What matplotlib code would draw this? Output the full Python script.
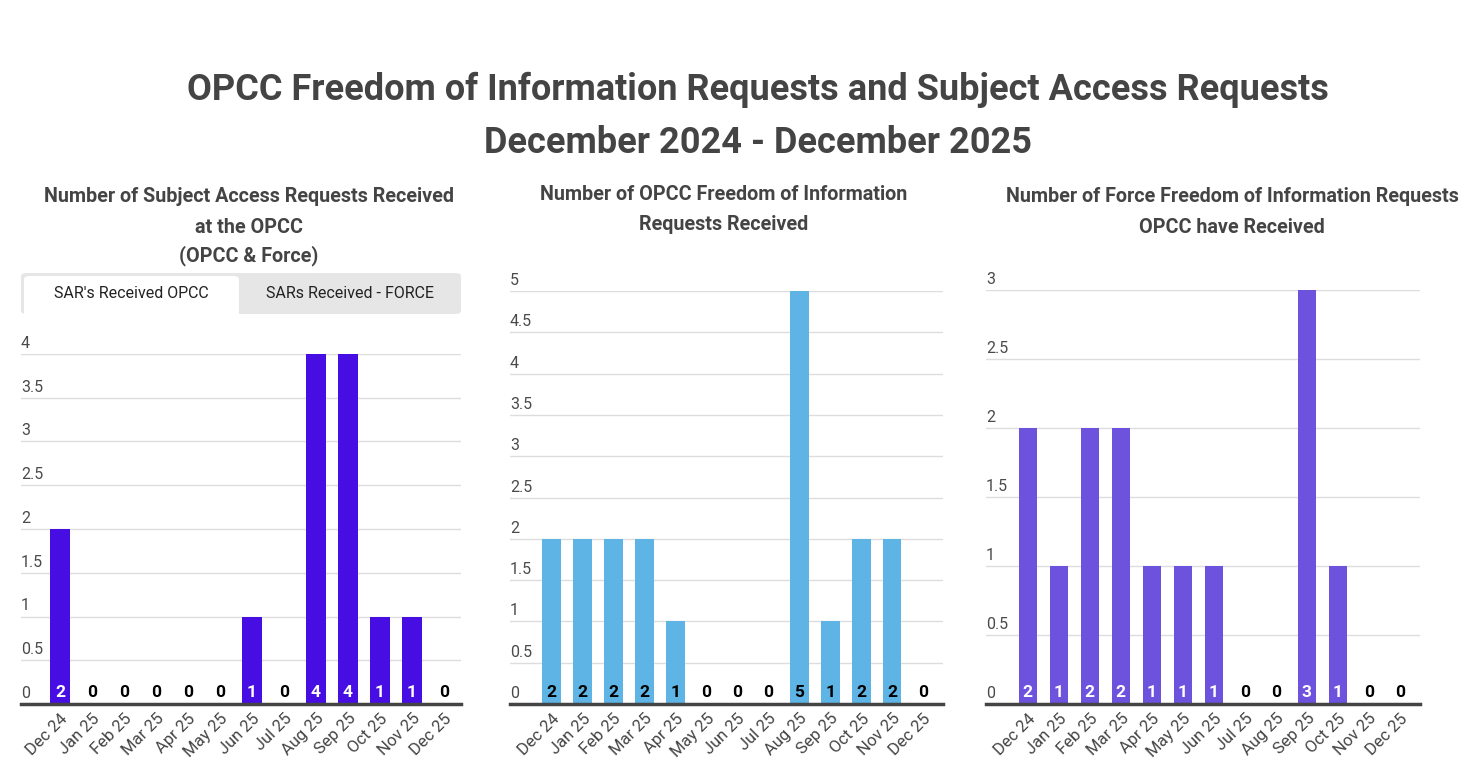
import matplotlib
matplotlib.use("Agg")
import matplotlib.pyplot as plt
import matplotlib.transforms as mtransforms
from matplotlib.patches import FancyBboxPatch, Rectangle
import numpy as np

plt.rcParams['font.family'] = ['Roboto', 'DejaVu Sans']

months = ["Dec 24", "Jan 25", "Feb 25", "Mar 25", "Apr 25", "May 25", "Jun 25",
          "Jul 25", "Aug 25", "Sep 25", "Oct 25", "Nov 25", "Dec 25"]
sar_opcc = [2, 0, 0, 0, 0, 0, 1, 0, 4, 4, 1, 1, 0]
opcc_foi = [2, 2, 2, 2, 1, 0, 0, 0, 5, 1, 2, 2, 0]
force_foi = [2, 1, 2, 2, 1, 1, 1, 0, 0, 3, 1, 0, 0]

main_title = ["OPCC Freedom of Information Requests and Subject Access Requests",
              "December 2024 - December 2025"]
sub_titles = [
    ["Number of Subject Access Requests Received", "at the OPCC", "(OPCC & Force)"],
    ["Number of OPCC Freedom of Information", "Requests Received"],
    ["Number of Force Freedom of Information Requests", "OPCC have Received"],
]
tab_labels = ["SAR's Received OPCC", "SARs Received - FORCE"]

W, H = 1476, 780
fig = plt.figure(figsize=(W / 100, H / 100), dpi=100)
fig.patch.set_facecolor("white")

def fx(x):
    return x / W

def fy(y):
    return 1 - y / H

# Main title
fig.text(fx(758), fy(90), main_title[0], ha="center", va="center",
         fontsize=26, fontweight="bold", color="#444444")
fig.text(fx(758), fy(143), main_title[1], ha="center", va="center",
         fontsize=26, fontweight="bold", color="#444444")

panels = [
    dict(vals=sar_opcc, color="#470ee3", left=21, right=461, top=354, ymax=4,
         step=0.5, title_x=249, title_y=[197, 227, 256], inside_color="white",
         xlim=(-1.22, 12.53)),
    dict(vals=opcc_foi, color="#5eb5e5", left=510, right=943, top=291, ymax=5,
         step=0.5, title_x=724, title_y=[195, 224], inside_color="black",
         xlim=(-1.34, 12.64)),
    dict(vals=force_foi, color="#6c52dc", left=986, right=1420, top=290, ymax=3,
         step=0.5, title_x=1232, title_y=[197, 227], inside_color="white",
         xlim=(-1.35, 12.65)),
]
bottom_px = 704

for i, p in enumerate(panels):
    ax = fig.add_axes([fx(p["left"]), fy(bottom_px), (p["right"] - p["left"]) / W,
                       (bottom_px - p["top"]) / H])
    x = np.arange(len(months))
    ax.bar(x, p["vals"], width=0.6, color=p["color"], zorder=2)
    ax.set_xlim(*p["xlim"])
    ax.set_ylim(0, p["ymax"])
    for s in ax.spines.values():
        s.set_visible(False)
    ticks = np.arange(0, p["ymax"] + 1e-9, p["step"])
    for t in ticks:
        if t == 0:
            ax.axhline(0, color="#444444", lw=2.5, zorder=3, clip_on=False)
        else:
            ax.axhline(t, color="#dddddd", lw=1, zorder=1)
        lbl = f"{t:g}"
        trans = mtransforms.offset_copy(ax.get_yaxis_transform(), fig=fig, x=0, y=3, units="dots")
        ax.text(0, t, lbl, transform=trans, ha="left", va="bottom", fontsize=11.5,
                color="#4a4a4a", clip_on=False)
    ax.set_yticks([])
    ax.set_xticks(x)
    ax.set_xticklabels(months, rotation=45, ha="right", rotation_mode="anchor",
                       fontsize=12, color="#444444")
    ax.tick_params(axis="x", length=0, pad=5)
    # value labels
    ltrans = mtransforms.offset_copy(ax.transData, fig=fig, x=0, y=4, units="dots")
    for xi, v in zip(x, p["vals"]):
        c = p["inside_color"] if v > 0 else "black"
        ax.text(xi, 0, f"{v}", transform=ltrans, ha="center", va="bottom",
                fontsize=12.5, fontweight="bold", color=c, zorder=4)
    # subtitles
    for line, ty in zip(sub_titles[i], p["title_y"]):
        fig.text(fx(p["title_x"]), fy(ty), line, ha="center", va="center",
                 fontsize=14.2, fontweight="bold", color="#444444")

# Tabs on panel 1
fig.add_artist(FancyBboxPatch((fx(21), fy(314)), fx(440), (314 - 273) / H,
                              boxstyle="round,pad=0,rounding_size=0.004",
                              transform=fig.transFigure, facecolor="#e6e6e6",
                              edgecolor="none"))
fig.add_artist(FancyBboxPatch((fx(24), fy(314)), fx(215), (314 - 276) / H,
                              boxstyle="round,pad=0,rounding_size=0.004",
                              transform=fig.transFigure, facecolor="white",
                              edgecolor="none"))
fig.add_artist(Rectangle((fx(24), fy(316)), fx(215), 6 / H,
                         transform=fig.transFigure, facecolor="white", edgecolor="none"))
fig.text(fx(131), fy(294), tab_labels[0], ha="center", va="center", fontsize=11.5, color="#222222")
fig.text(fx(350), fy(294), tab_labels[1], ha="center", va="center", fontsize=11.5, color="#222222")

fig.savefig("out.png", dpi=100, facecolor="white")
